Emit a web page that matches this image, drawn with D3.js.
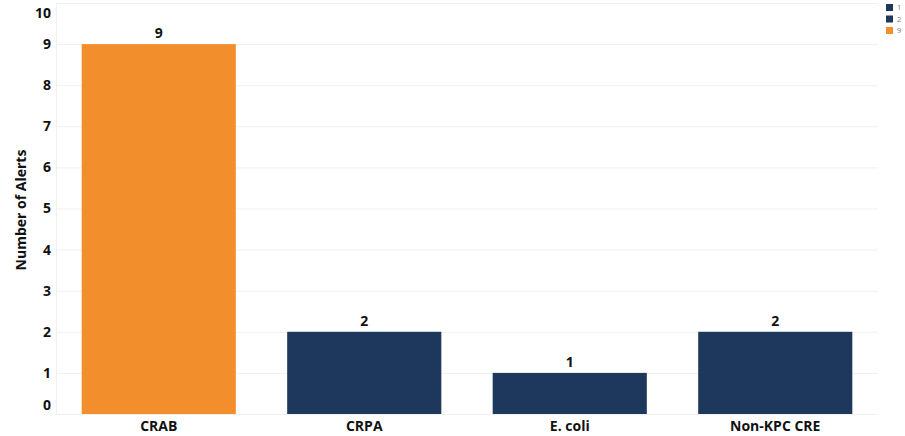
<!DOCTYPE html>
<html><head><meta charset="utf-8">
<script src="https://cdn.jsdelivr.net/npm/d3@7"></script>
<style>body{margin:0;background:#fff}svg{display:block;font-family:"Open Sans",sans-serif}</style>
</head><body><svg id="c" width="905" height="436"></svg>
<script>
const categories = ["CRAB","CRPA","E. coli","Non-KPC CRE"];
const alerts = [9,2,1,2];
const yTicks = [0,1,2,3,4,5,6,7,8,9,10];
const legendLabels = ["1","2","9"];
const colorFor = v => v >= 9 ? "#F28E2B" : "#1D375D";

const svg = d3.select("#c");
const m = {l:56, r:878, t:3, b:414};
const x = d3.scaleBand().domain(categories).range([m.l, m.r]).paddingInner(0.25).paddingOuter(0.125);
const y = d3.scaleLinear().domain([0,10]).range([m.b, m.t]);

// gridlines
svg.append("g").selectAll("line").data(yTicks).join("line")
  .attr("x1", m.l).attr("x2", m.r).attr("y1", d=>y(d)+0.5).attr("y2", d=>y(d)+0.5)
  .attr("stroke", "#F0F0F0").attr("stroke-width", 1);
svg.append("line").attr("x1", m.l+0.5).attr("x2", m.l+0.5).attr("y1", m.t).attr("y2", m.b+1)
  .attr("stroke", "#F0F0F0");

// y tick labels
svg.append("g").selectAll("text").data(yTicks).join("text")
  .attr("x", 51).attr("text-anchor", "end")
  .attr("y", d => d===10 ? y(d)+10 : d===0 ? y(d)-9 : y(d))
  .attr("dy", "0.35em")
  .attr("font-size", 14).attr("font-weight", 700).attr("fill", "#111")
  .text(d => d);

// y axis title
svg.append("text").attr("transform", `translate(26,210) rotate(-90)`)
  .attr("text-anchor", "middle").attr("font-size", 14).attr("font-weight", 700).attr("fill", "#111")
  .text("Number of Alerts");

// bars
svg.append("g").selectAll("rect").data(categories).join("rect")
  .attr("x", d => x(d)).attr("width", x.bandwidth())
  .attr("y", (d,i) => y(alerts[i])).attr("height", (d,i) => y(0) - y(alerts[i]))
  .attr("fill", (d,i) => colorFor(alerts[i]));

// value labels
svg.append("g").selectAll("text").data(categories).join("text")
  .attr("x", d => x(d) + x.bandwidth()/2).attr("y", (d,i) => y(alerts[i]) - 6)
  .attr("text-anchor", "middle").attr("font-size", 14).attr("font-weight", 700).attr("fill", "#111")
  .text((d,i) => alerts[i]);

// x labels
svg.append("g").selectAll("text").data(categories).join("text")
  .attr("x", d => x(d) + x.bandwidth()/2).attr("y", 431)
  .attr("text-anchor", "middle").attr("font-size", 14).attr("font-weight", 700).attr("fill", "#111")
  .text(d => d);

// legend
const lg = svg.append("g").selectAll("g").data(legendLabels).join("g")
  .attr("transform", (d,i) => `translate(886,${4 + i*11.5})`);
lg.append("rect").attr("width", 7).attr("height", 7).attr("fill", d => colorFor(+d));
lg.append("text").attr("x", 11).attr("y", 3.5).attr("dy", "0.35em")
  .attr("font-size", 7.5).attr("fill", "#777").text(d => d);
</script></body></html>
